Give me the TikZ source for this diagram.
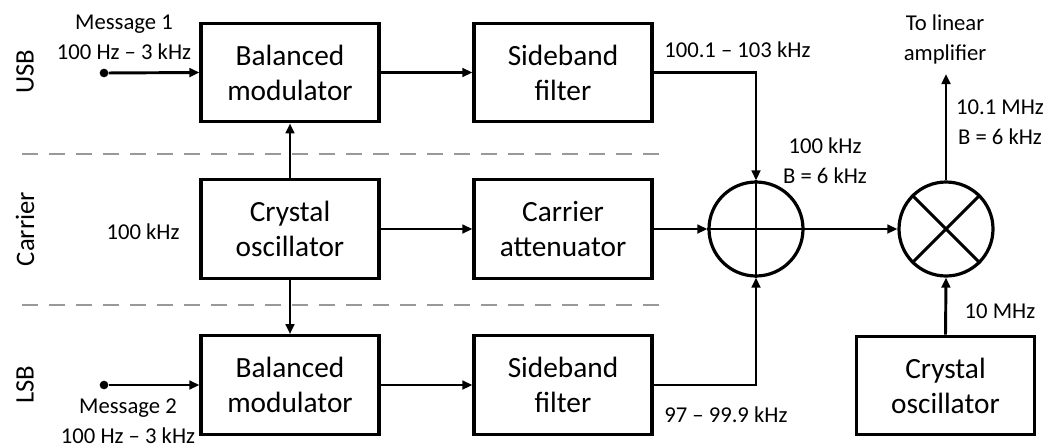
\documentclass[tikz,border=0pt]{standalone}
\usepackage{fontspec}
\setmainfont{Carlito}
\usetikzlibrary{arrows.meta}
\begin{document}
\begin{tikzpicture}[x=0.75pt,y=-0.75pt,
  blk/.style={draw,line width=2.4pt,minimum width=133.5pt,minimum height=74pt,
    align=center,inner sep=0pt,font=\fontsize{22}{26.3}\selectfont},
  rnd/.style={draw,circle,line width=2.4pt,minimum size=70.5pt,inner sep=0pt},
  lbl/.style={align=center,inner sep=0pt,font=\fontsize{17}{22.5}\selectfont},
  side/.style={rotate=90,inner sep=0pt,font=\fontsize{20}{24}\selectfont},
  conn/.style={line width=2.2pt,-{Triangle[length=7.5pt,width=6.5pt]}},
  sep/.style={draw=black!40,line width=1.6pt,dash pattern=on 12pt off 8.25pt},
  dot/.style={circle,fill,inner sep=0pt,minimum size=6.5pt}]
\useasboundingbox (0,0) rectangle (1052,447);
% separators
\coordinate (s1a) at (22,154); \coordinate (s1b) at (667,154);
\coordinate (s2a) at (22,305); \coordinate (s2b) at (667,305);
\draw[sep] (s1a) -- (s1b);
\draw[sep] (s2a) -- (s2b);
% blocks
\node[blk] (bm1) at (290,72.5) {Balanced\\modulator};
\node[blk] (sf1) at (563,72.5) {Sideband\\filter};
\node[blk] (co) at (290,229) {Crystal\\oscillator};
\node[blk] (ca) at (563,229) {Carrier\\attenuator};
\node[blk] (bm2) at (290,385) {Balanced\\modulator};
\node[blk] (sf2) at (563,385) {Sideband\\filter};
\node[blk] (co2) at (945.5,385.5) {Crystal\\oscillator};
\node[rnd] (sum) at (756,229) {};
\node[rnd] (mix) at (946,229) {};
\draw[line width=2.2pt] (sum.north) -- (sum.south) (sum.west) -- (sum.east);
\draw[line width=2.2pt] (mix.45) -- (mix.225) (mix.135) -- (mix.315);
% inputs
\node[dot] (m1) at (104,73) {};
\node[dot] (m2) at (104,385) {};
\draw[conn] (m1) -- (bm1.west);
\draw[conn] (m2) -- (bm2.west);
% connections
\draw[conn] (bm1.east) -- (sf1.west);
\draw[conn] (bm2.east) -- (sf2.west);
\draw[conn] (co.east) -- (ca.west);
\draw[conn] (co.north) -- (bm1.south);
\draw[conn] (co.south) -- (bm2.north);
\draw[conn] (sf1.east) -| (sum.north);
\draw[conn] (sf2.east) -| (sum.south);
\draw[conn] (ca.east) -- (sum.west);
\draw[conn] (sum.east) -- (mix.west);
\draw[conn] (co2.north) -- (mix.south);
\coordinate (out) at (946,74);
\draw[conn] (mix.north) -- (out);
% labels
\node[side] (usb) at (25,72) {USB};
\node[side] (car) at (25,229) {Carrier};
\node[side] (lsb) at (25,385) {LSB};
\node[lbl] (l1) at (124,37) {Message 1\\100 Hz – 3 kHz};
\node[lbl] (l2) at (128,421) {Message 2\\100 Hz – 3 kHz};
\node[lbl] (l3) at (143,232) {100 kHz};
\node[lbl,anchor=west] (l4) at (664,50) {100.1 – 103 kHz};
\node[lbl,anchor=west] (l5) at (664,415) {97 – 99.9 kHz};
\node[lbl] (l6) at (825,160.5) {100 kHz\\B = 6 kHz};
\node[lbl] (l7) at (1000,122.5) {10.1 MHz\\B = 6 kHz};
\node[lbl] (l8) at (945,39) {To linear\\amplifier};
\node[lbl] (l9) at (1000,311) {10 MHz};
\end{tikzpicture}
\end{document}
